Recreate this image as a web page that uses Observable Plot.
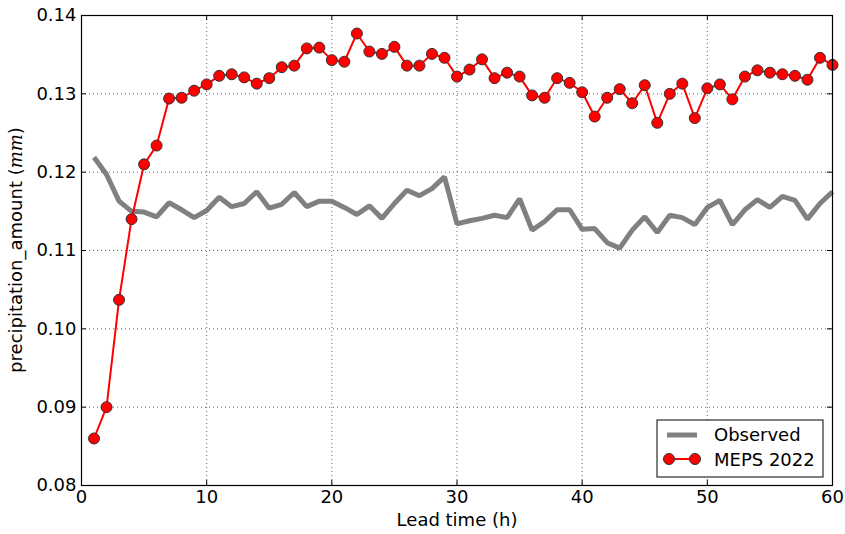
<!DOCTYPE html>
<html>
<head>
<meta charset="utf-8">
<script src="https://cdn.jsdelivr.net/npm/d3@7"></script>
<script src="https://cdn.jsdelivr.net/npm/@observablehq/plot@0.6"></script>
<style>
  html, body { margin: 0; padding: 0; background: #fff; }
  #chart svg { display: block; }
</style>
</head>
<body>
<div id="chart"></div>
<script>
const leadTime = d3.range(1, 61);
const observed = [
  0.1219, 0.1197, 0.1163, 0.1150, 0.1149, 0.1143, 0.1161, 0.1152, 0.1142, 0.1151,
  0.1168, 0.1156, 0.1160, 0.1175, 0.1154, 0.1159, 0.1174, 0.1156, 0.1163, 0.1163,
  0.1155, 0.1146, 0.1157, 0.1141, 0.1160, 0.1177, 0.1170, 0.1179, 0.1194, 0.1134,
  0.1138, 0.1141, 0.1145, 0.1142, 0.1166, 0.1126, 0.1137, 0.1152, 0.1152, 0.1127,
  0.1128, 0.1110, 0.1103, 0.1126, 0.1143, 0.1123, 0.1145, 0.1142, 0.1133, 0.1155,
  0.1164, 0.1133, 0.1152, 0.1165, 0.1155, 0.1169, 0.1164, 0.1140, 0.1160, 0.1175
];
const meps2022 = [
  0.0860, 0.0900, 0.1037, 0.1140, 0.1210, 0.1234, 0.1294, 0.1295, 0.1304, 0.1312,
  0.1323, 0.1325, 0.1321, 0.1313, 0.1320, 0.1334, 0.1336, 0.1358, 0.1359, 0.1343,
  0.1341, 0.1377, 0.1354, 0.1351, 0.1360, 0.1336, 0.1336, 0.1351, 0.1346, 0.1322,
  0.1331, 0.1344, 0.1320, 0.1327, 0.1322, 0.1298, 0.1295, 0.1320, 0.1314, 0.1302,
  0.1271, 0.1295, 0.1306, 0.1288, 0.1311, 0.1263, 0.1300, 0.1313, 0.1269, 0.1307,
  0.1312, 0.1293, 0.1322, 0.1330, 0.1327, 0.1325, 0.1323, 0.1318, 0.1346, 0.1337
];
const xTicks = [0, 10, 20, 30, 40, 50, 60];
const yTicks = [0.08, 0.09, 0.10, 0.11, 0.12, 0.13, 0.14];
const seriesNames = ["Observed", "MEPS 2022"];
const xLabel = "Lead time (h)";

const obsData = leadTime.map((t, i) => ({t, v: observed[i]}));
const mepsData = leadTime.map((t, i) => ({t, v: meps2022[i]}));

const W = 845, H = 534, mL = 81, mR = 13, mT = 15, mB = 49;
const pw = W - mL - mR, ph = H - mT - mB;
const tickLen = 5;
const FS = 18;

const plot = Plot.plot({
  width: W,
  height: H,
  marginLeft: mL,
  marginRight: mR,
  marginTop: mT,
  marginBottom: mB,
  style: {fontFamily: "DejaVu Sans", fontSize: FS + "px", color: "#000", background: "#fff"},
  x: {domain: [0, 60]},
  y: {domain: [0.08, 0.14]},
  marks: [
    Plot.gridX(xTicks, {stroke: "#000", strokeOpacity: 0.6, strokeDasharray: "1,3"}),
    Plot.gridY(yTicks, {stroke: "#000", strokeOpacity: 0.6, strokeDasharray: "1,3"}),
    Plot.axisX(xTicks, {tickSize: 0, tickPadding: 5, label: xLabel, labelAnchor: "center", labelOffset: 40, labelArrow: "none"}),
    Plot.axisY(yTicks, {tickSize: 0, tickPadding: 5, tickFormat: d3.format(".2f"), label: null}),
    // inward ticks on all four sides
    Plot.ruleX(xTicks, {stroke: "#000", insetTop: ph - tickLen}),
    Plot.ruleX(xTicks, {stroke: "#000", insetBottom: ph - tickLen}),
    Plot.ruleY(yTicks, {stroke: "#000", insetRight: pw - tickLen}),
    Plot.ruleY(yTicks, {stroke: "#000", insetLeft: pw - tickLen}),
    Plot.line(obsData, {x: "t", y: "v", stroke: "#808080", strokeWidth: 5, strokeLinejoin: "miter", strokeLinecap: "butt"}),
    Plot.line(mepsData, {x: "t", y: "v", stroke: "#ff0000", strokeWidth: 2}),
    Plot.dot(mepsData, {x: "t", y: "v", r: 5.5, fill: "#ff0000", stroke: "#333", strokeWidth: 1}),
    Plot.frame({stroke: "#000", strokeWidth: 1.2})
  ]
});

const svg = d3.select(plot);

// y-axis label with italic unit
const yl = svg.append("text")
  .attr("transform", `translate(22,${mT + ph / 2}) rotate(-90)`)
  .attr("text-anchor", "middle")
  .attr("font-family", "DejaVu Sans")
  .attr("font-size", FS)
  .attr("fill", "#000");
yl.append("tspan").text("precipitation_amount (");
yl.append("tspan").attr("font-family", "DejaVu Serif").attr("font-style", "italic").text("mm");
yl.append("tspan").text(")");

// legend
const lg = svg.append("g").attr("font-family", "DejaVu Sans").attr("font-size", FS).attr("text-anchor", "start");
lg.append("rect").attr("x", 657).attr("y", 420).attr("width", 166).attr("height", 57)
  .attr("fill", "#fff").attr("stroke", "#000").attr("stroke-width", 1);
lg.append("line").attr("x1", 667).attr("x2", 697).attr("y1", 435).attr("y2", 435)
  .attr("stroke", "#808080").attr("stroke-width", 5);
lg.append("text").attr("x", 714).attr("y", 441).attr("text-anchor", "start").text(seriesNames[0]);
lg.append("line").attr("x1", 669).attr("x2", 695).attr("y1", 459).attr("y2", 459)
  .attr("stroke", "#ff0000").attr("stroke-width", 2);
[669, 695].forEach(cx => lg.append("circle").attr("cx", cx).attr("cy", 459).attr("r", 5.5)
  .attr("fill", "#ff0000").attr("stroke", "#333").attr("stroke-width", 1));
lg.append("text").attr("x", 714).attr("y", 466).attr("text-anchor", "start").text(seriesNames[1]);

document.getElementById("chart").appendChild(plot);
</script>
</body>
</html>
